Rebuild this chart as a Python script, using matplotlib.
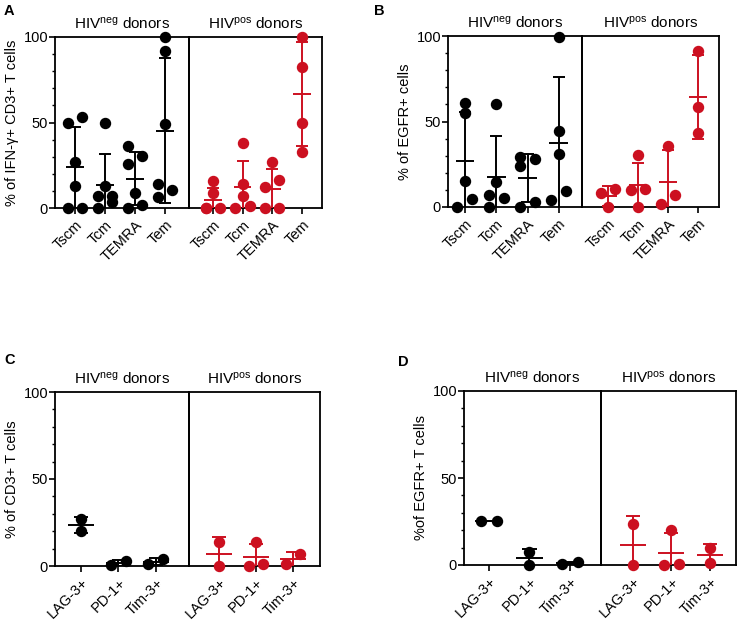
import numpy as np
import matplotlib.pyplot as plt

plt.rcParams['font.family'] = 'Liberation Sans'
plt.rcParams['mathtext.fontset'] = 'custom'
plt.rcParams['mathtext.rm'] = 'Liberation Sans'
plt.rcParams['mathtext.it'] = 'Liberation Sans:italic'

W, H = 738, 622
BLACK = '#000000'
RED = '#cc1020'

# categories
subsets = ['Tscm', 'Tcm', 'TEMRA', 'Tem']
checkpoints = ['LAG-3+', 'PD-1+', 'Tim-3+']

# panel A: % of IFN-g+ CD3+ T cells
a_neg = [[50, 53, 27, 13, 0, 0], [49.5, 13, 7, 7, 3.5, 0],
         [36, 26, 30.5, 9, 0, 2], [100, 92, 49, 14, 10.3, 6.4]]
a_pos = [[15.5, 8.7, 0, 0, 0], [38, 14, 7, 1, 0],
         [27, 16.4, 12.5, 0, 0], [100, 82.7, 50, 33]]
# panel B: % of EGFR+ cells
b_neg = [[61, 54.7, 15.2, 4.5, 0], [60, 14.6, 5.5, 6.8, 0],
         [24, 29, 28, 3, 0], [99.6, 44.5, 31, 9.4, 4]]
b_pos = [[8.4, 10.7, 0], [30.7, 9.8, 10.7, 0], [35.7, 7.2, 1.6], [91.4, 58.6, 43]]
# panel C: % of CD3+ T cells
c_neg = [[27, 20.3], [0.5, 2.8], [1, 4]]
c_pos = [[14, 0], [14, 0, 1], [6.7, 1]]
# panel D: % of EGFR+ T cells
d_neg = [[25.4, 25.4], [7.5, 0], [0.6, 1.5]]
d_pos = [[23.5, 0], [20, 0, 0.6], [10, 1.1]]


def swarm(vals, ydia, dx):
    # simple alternating spread for overlapping points
    order = np.argsort(vals, kind='stable')
    offs = np.zeros(len(vals))
    clusters = [[order[0]]]
    for i in order[1:]:
        if vals[i] - vals[clusters[-1][-1]] < ydia:
            clusters[-1].append(i)
        else:
            clusters.append([i])
    for cl in clusters:
        if len(cl) > 1:
            for k, i in enumerate(cl):
                offs[i] = -dx if k % 2 == 0 else dx
    return offs


def px_axes(fig, x0, x1, ytop, ybot):
    ax = fig.add_axes([x0 / W, 1 - ybot / H, (x1 - x0) / W, (ybot - ytop) / H])
    ax.patch.set_alpha(0)
    return ax


def draw_half(ax, groups, color, xlim, labels, dx, mw, cw, first):
    pos = np.arange(len(groups))
    for x, vals in zip(pos, groups):
        vals = np.array(vals, float)
        offs = swarm(vals, 5.8, dx)
        ax.plot(x + offs, vals, 'o', color=color, ms=7.2, mec=color,
                clip_on=False, zorder=3)
        m = vals.mean()
        s = vals.std(ddof=1)
        lo, hi = max(m - s, 0), m + s
        ax.vlines(x, lo, hi, color=color, lw=1.4, zorder=4)
        ax.hlines(m, x - mw, x + mw, color=color, lw=1.4, zorder=4)
        ax.hlines(hi, x - cw, x + cw, color=color, lw=1.4, zorder=4)
        if lo > 0:
            ax.hlines(lo, x - cw, x + cw, color=color, lw=1.4, zorder=4)
    ax.set_xlim(xlim)
    ax.set_ylim(0, 100)
    ax.set_xticks(pos)
    ax.set_xticklabels(labels, rotation=45, ha='right', rotation_mode='anchor',
                       fontsize=10.5)
    ax.tick_params(axis='x', length=4, width=1.2, pad=3)
    for sp in ax.spines.values():
        sp.set_linewidth(1.3)
    if first:
        ax.set_yticks([0, 50, 100])
        ax.set_yticks(np.arange(0, 101, 10), minor=True)
        ax.tick_params(axis='y', which='major', length=4, width=1.2, labelsize=10.5, pad=1)
        ax.tick_params(axis='y', which='minor', length=2.5, width=1.0)
    else:
        ax.set_yticks([])


def panel(fig, x0, xm, x1, ytop, ybot, xl_neg, xl_pos, cats, neg, pos,
          ylabel, dx, mw, cw, letter, lx, ly):
    axl = px_axes(fig, x0, xm, ytop, ybot)
    axr = px_axes(fig, xm, x1, ytop, ybot)
    draw_half(axl, neg, BLACK, xl_neg, cats, dx, mw, cw, True)
    draw_half(axr, pos, RED, xl_pos, cats, dx, mw, cw, False)
    axl.set_title(r'HIV$^{\rm neg}$ donors', fontsize=11, pad=6)
    axr.set_title(r'HIV$^{\rm pos}$ donors', fontsize=11, pad=6)
    axl.set_ylabel(ylabel, fontsize=10.5, labelpad=3)
    fig.text(lx / W, 1 - ly / H, letter, fontsize=10.5, weight='bold', va='top')


fig = plt.figure(figsize=(W / 100, H / 100), dpi=100)

panel(fig, 55, 189, 322, 37, 208, (-0.67, 3.8), (-0.8, 3.67), subsets, a_neg, a_pos,
      '% of IFN-γ+ CD3+ T cells', 0.24, 0.3, 0.2, 'A', 4, 4)
panel(fig, 448, 582, 719, 36, 207, (-0.54, 3.74), (-0.87, 3.7), subsets, b_neg, b_pos,
      '% of EGFR+ cells', 0.24, 0.3, 0.2, 'B', 374, 4)
panel(fig, 55, 189, 320, 392, 566, (-0.69, 2.88), (-0.81, 2.73), checkpoints, c_neg, c_pos,
      '% of CD3+ T cells', 0.2, 0.34, 0.18, 'C', 4, 353)
panel(fig, 464, 601, 736, 391, 565, (-0.62, 2.77), (-0.83, 2.68), checkpoints, d_neg, d_pos,
      '%of EGFR+ T cells', 0.2, 0.34, 0.18, 'D', 398, 355)

fig.savefig('out.png', dpi=100, facecolor='white')
